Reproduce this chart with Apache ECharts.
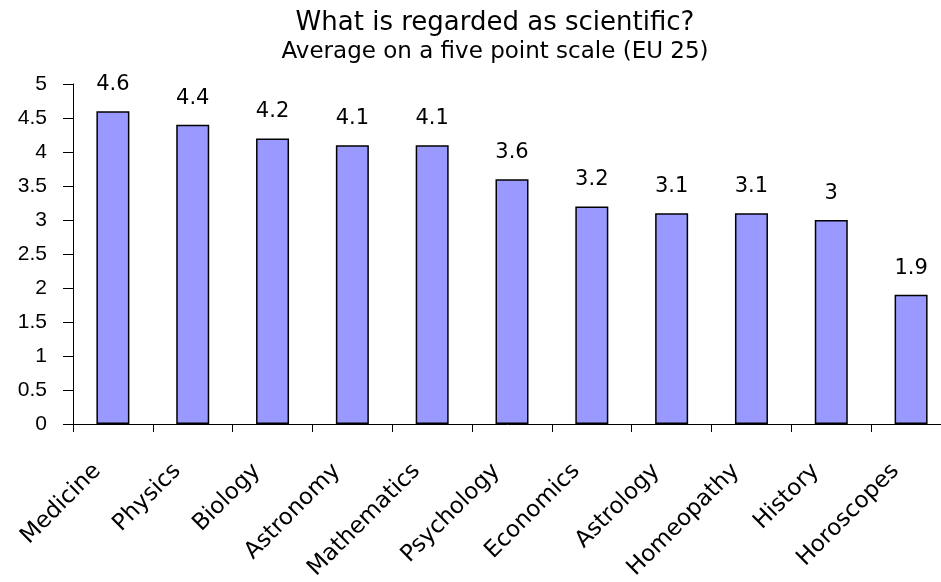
<!DOCTYPE html>
<html><head><meta charset="utf-8">
<script src="https://cdn.jsdelivr.net/npm/echarts@6/dist/echarts.min.js"></script>
<style>html,body{margin:0;padding:0;background:#fff}#c{width:941px;height:582px}</style>
</head><body><div id="c"></div>
<script>
const categories = ["Medicine","Physics","Biology","Astronomy","Mathematics","Psychology","Economics","Astrology","Homeopathy","History","Horoscopes"];
const values = [4.6,4.4,4.2,4.1,4.1,3.6,3.2,3.1,3.1,3,1.9];
const yTicks = [0,0.5,1,1.5,2,2.5,3,3.5,4,4.5,5];

const chart = echarts.init(document.getElementById('c'), null, {renderer:'canvas'});
chart.setOption({
  animation:false,
  backgroundColor:'#ffffff',
  title:{
    text:'What is regarded as scientific?',
    subtext:'Average on a five point scale (EU 25)',
    left:490, textAlign:'center', top:5, itemGap:5,
    textStyle:{fontFamily:'DejaVu Sans', fontSize:26, fontWeight:'normal', color:'#000'},
    subtextStyle:{fontFamily:'DejaVu Sans', fontSize:23, color:'#000'}
  },
  grid:{left:73, right:-10, top:84, bottom:158, outerBoundsMode:'none'},
  xAxis:{
    type:'category', data:categories,
    axisLine:{lineStyle:{color:'#000', width:1}},
    axisTick:{show:true, length:8, alignWithLabel:false, lineStyle:{color:'#000'}},
    axisLabel:{rotate:45, margin:28, padding:[0,22,0,0], interval:0, fontFamily:'DejaVu Sans', fontSize:23, color:'#000'}
  },
  yAxis:{
    type:'value', min:0, max:5, interval:0.5,
    splitLine:{show:false},
    axisLine:{show:true, lineStyle:{color:'#000', width:1}},
    axisTick:{show:true, inside:false, length:10, lineStyle:{color:'#000'}},
    axisLabel:{margin:26, fontFamily:'Liberation Sans, Arial', fontSize:21, color:'#000',
      formatter:v=>String(yTicks.find(t=>Math.abs(t-v)<1e-9) ?? v)}
  },
  series:[{
    type:'bar', data:values, barWidth:33,
    itemStyle:{color:'#9999FF', borderColor:'#000', borderWidth:1.5},
    label:{show:true, position:'top', distance:16, fontFamily:'DejaVu Sans', fontSize:21, color:'#000'}
  }]
});
</script></body></html>
